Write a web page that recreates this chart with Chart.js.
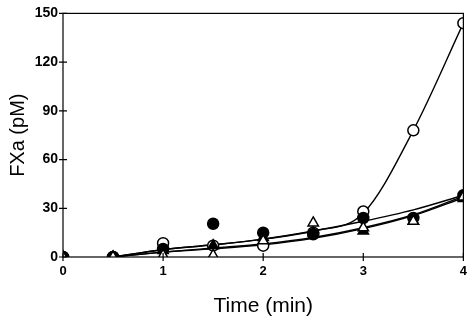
<!DOCTYPE html>
<html>
<head>
<meta charset="utf-8">
<script src="https://cdn.jsdelivr.net/npm/chart.js@4"></script>
<style>
  html, body { margin: 0; padding: 0; background: #fff; }
  #wrap { width: 474px; height: 323px; }
</style>
</head>
<body>
<div id="wrap"><canvas id="fxaChart"></canvas></div>
<script>
// Sampling times (min)
const times = [0, 0.5, 1, 1.5, 2, 2.5, 3, 3.5, 4];

// Measured FXa (pM)
const openCircle   = [0, 0, 8.5, 7, 7, 15, 28, 78, 144];
const filledCircle = [0, 0, 5, 20.5, 15, 14, 24, 24, 38];
const openTri      = [0, 0, 1, 1, 10, 21, 18, 22, 37];
const filledTri    = [0, 0, 4, 7, 12, 15, 16, 22, 36];

// Fitted curves, read at the same times
const fitOpenCircle   = [0, 0, 4.5, 7.5, 11, 16, 27, 78, 144];
const fitFilledCircle = [0, 0, 4.5, 7.5, 11, 16, 22, 29, 38];
const fitOpenTri      = [0, 0, 3, 5.5, 8, 12, 18, 26, 37.5];
const fitFilledTri    = [0, 0, 3, 5, 7.5, 11.5, 17.5, 25.5, 36.5];

const yTicks = [0, 30, 60, 90, 120, 150];
const FONT = "Liberation Sans, Arial, sans-serif";

function pts(ys) {
    return times.map((t, i) => ({ x: t, y: ys[i] }));
}

function fitLine(ys) {
    return {
        type: "line",
        data: pts(ys).slice(1),
        borderColor: "#000",
        borderWidth: 1.4,
        pointRadius: 0,
        cubicInterpolationMode: "monotone",
        fill: false,
        order: 2
    };
}

function markers(ys, style, filled, r) {
    return {
        type: "scatter",
        data: pts(ys),
        pointStyle: style,
        pointRadius: r,
        pointBorderWidth: 1.5,
        pointBorderColor: "#000",
        pointBackgroundColor: filled ? "#000" : "#fff",
        showLine: false,
        order: 1
    };
}

// Plot frame with ticks crossing the axes
const frame = {
    id: "frame",
    afterDraw(chart) {
        const { ctx, chartArea: a, scales } = chart;
        ctx.save();
        ctx.strokeStyle = "#000";
        ctx.lineWidth = 1.2;
        ctx.strokeRect(a.left, a.top, a.right - a.left, a.bottom - a.top);
        ctx.beginPath();
        yTicks.forEach(v => {
            const y = scales.y.getPixelForValue(v);
            ctx.moveTo(a.left - 4, y);
            ctx.lineTo(a.left + 4, y);
        });
        [0, 1, 2, 3, 4].forEach(v => {
            const x = scales.x.getPixelForValue(v);
            ctx.moveTo(x, a.bottom - 4);
            ctx.lineTo(x, a.bottom + 4);
        });
        ctx.stroke();
        ctx.restore();
    }
};

new Chart(document.getElementById("fxaChart"), {
    data: {
        datasets: [
            fitLine(fitOpenCircle),
            fitLine(fitFilledCircle),
            fitLine(fitOpenTri),
            fitLine(fitFilledTri),
            markers(openTri, "triangle", false, 6),
            markers(filledTri, "triangle", true, 6),
            markers(filledCircle, "circle", true, 5.5),
            markers(openCircle, "circle", false, 5.5)
        ]
    },
    options: {
        responsive: true,
        maintainAspectRatio: false,
        animation: false,
        layout: { padding: { top: 8, right: 10, left: 0, bottom: 0 } },
        plugins: { legend: { display: false }, tooltip: { enabled: false } },
        scales: {
            x: {
                type: "linear",
                min: 0,
                max: 4,
                afterFit(s) { s.height = 66; },
                grid: { display: false, drawTicks: false },
                border: { display: false },
                ticks: {
                    stepSize: 1,
                    padding: 7,
                    color: "#000",
                    font: { family: FONT, size: 13, weight: "bold" }
                },
                title: {
                    display: true,
                    text: "Time (min)",
                    color: "#000",
                    padding: { top: 10 },
                    font: { family: FONT, size: 21 }
                }
            },
            y: {
                min: 0,
                max: 150,
                afterFit(s) { s.width = 63; },
                afterBuildTicks(s) { s.ticks = yTicks.map(v => ({ value: v })); },
                grid: { display: false, drawTicks: false },
                border: { display: false },
                ticks: {
                    padding: 5,
                    color: "#000",
                    font: { family: FONT, size: 14, weight: "bold" }
                },
                title: {
                    display: true,
                    text: "FXa (pM)",
                    color: "#000",
                    padding: { top: 6, bottom: 0 },
                    font: { family: FONT, size: 20 }
                }
            }
        }
    },
    plugins: [frame]
});
</script>
</body>
</html>
